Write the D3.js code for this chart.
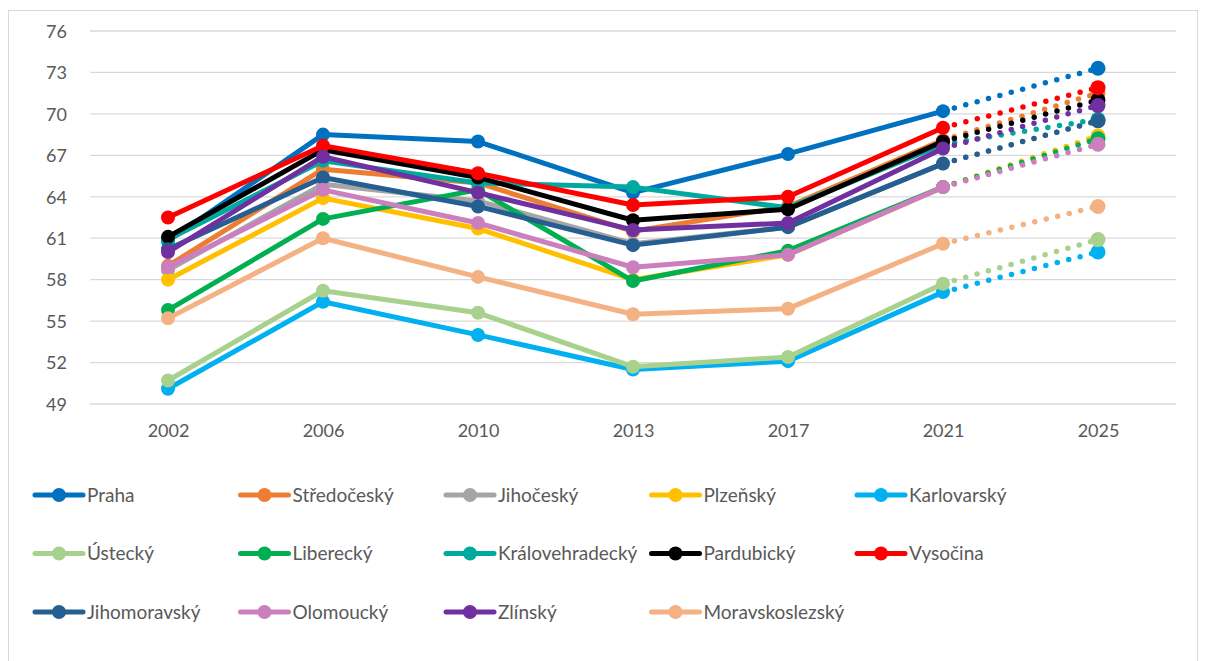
<!DOCTYPE html>
<html>
<head>
<meta charset="utf-8">
<script src="https://cdn.jsdelivr.net/npm/d3@7"></script>
<style>
  body { margin: 0; background: #fff; }
  svg text { font-family: Lato, "Open Sans", sans-serif; fill: #595959; }
</style>
</head>
<body>
<svg id="canvas" width="1206" height="661"></svg>
<script>
// données
const annees = ['2002', '2006', '2010', '2013', '2017', '2021', '2025']
const graduations = [49, 52, 55, 58, 61, 64, 67, 70, 73, 76]

const kraje = ['Praha', 'Středočeský', 'Jihočeský', 'Plzeňský', 'Karlovarský',
  'Ústecký', 'Liberecký', 'Královehradecký', 'Pardubický', 'Vysočina',
  'Jihomoravský', 'Olomoucký', 'Zlínský', 'Moravskoslezský']
const couleurs = ['#0070C0', '#ED7D31', '#A5A5A5', '#FFC000', '#00B0F0',
  '#A9D18E', '#00B050', '#00A9A0', '#000000', '#FF0000',
  '#255E91', '#CC7FBE', '#7030A0', '#F4B183']

const praha = [60.8, 68.5, 68.0, 64.3, 67.1, 70.2, 73.3]
const stredocesky = [59.0, 66.0, 65.0, 61.5, 63.3, 68.1, 71.5]
const jihocesky = [58.7, 64.9, 63.7, 60.6, 61.8, 66.4, 69.5]
const plzensky = [58.0, 63.9, 61.7, 58.0, 59.8, 64.7, 68.4]
const karlovarsky = [50.1, 56.4, 54.0, 51.5, 52.1, 57.1, 60.0]
const ustecky = [50.7, 57.2, 55.6, 51.7, 52.4, 57.7, 60.9]
const liberecky = [55.8, 62.4, 64.5, 57.9, 60.1, 64.7, 68.2]
const kralovehradecky = [60.9, 66.6, 65.0, 64.7, 63.2, 67.8, 69.6]
const pardubicky = [61.1, 67.4, 65.4, 62.3, 63.1, 68.0, 71.0]
const vysocina = [62.5, 67.7, 65.7, 63.4, 64.0, 69.0, 71.9]
const jihomoravsky = [60.2, 65.4, 63.3, 60.5, 61.8, 66.4, 69.5]
const olomoucky = [58.9, 64.5, 62.1, 58.9, 59.8, 64.7, 67.8]
const zlinsky = [60.0, 66.9, 64.3, 61.6, 62.1, 67.5, 70.6]
const moravskoslezsky = [55.2, 61.0, 58.2, 55.5, 55.9, 60.6, 63.3]

const valeurs = [praha, stredocesky, jihocesky, plzensky, karlovarsky, ustecky,
  liberecky, kralovehradecky, pardubicky, vysocina, jihomoravsky, olomoucky,
  zlinsky, moravskoslezsky]

// le dernier point (2025) est une projection, dessinée en pointillé
const series = kraje.map((nom, i) => ({
  nom: nom,
  couleur: couleurs[i],
  points: valeurs[i].map((v, j) => ({ annee: annees[j], v: v }))
}))

let canvas = d3.select('#canvas')

// cadre du graphique
canvas.append('rect')
  .attr('x', 8.5).attr('y', 10.5)
  .attr('width', 1189).attr('height', 670)
  .attr('fill', 'none').attr('stroke', '#d9d9d9')

let x = d3.scalePoint().domain(annees).range([90.5, 1175.5]).padding(0.5)
let y = d3.scaleLinear().domain([49, 76]).range([404, 31])

// grille horizontale
canvas.append('g')
  .selectAll('line')
  .data(graduations)
  .enter()
  .append('line')
  .attr('x1', 90).attr('x2', 1176)
  .attr('y1', d => y(d)).attr('y2', d => y(d))
  .attr('stroke', '#d9d9d9').attr('stroke-width', 1.3)

// axe Y
let axeY = canvas.append('g')
  .attr('transform', 'translate(67,0)')
  .call(d3.axisLeft(y).tickValues(graduations).tickSize(0).tickPadding(0))
axeY.select('.domain').remove()
axeY.selectAll('text').style('font-size', '18px').attr('dy', '0.35em')

// axe X
let axeX = canvas.append('g')
  .attr('transform', 'translate(0,424)')
  .call(d3.axisBottom(x).tickSize(0).tickPadding(0))
axeX.select('.domain').remove()
axeX.selectAll('text').style('font-size', '18px').attr('dy', '0.71em')

let ligne = d3.line().x(d => x(d.annee)).y(d => y(d.v))

// une série après l'autre, pour garder l'ordre de superposition d'Excel
series.forEach(s => {
  let g = canvas.append('g')
  g.append('path')
    .attr('d', ligne(s.points.slice(0, 6)))
    .attr('fill', 'none').attr('stroke', s.couleur)
    .attr('stroke-width', 5).attr('stroke-linejoin', 'round')
  g.append('path')
    .attr('d', ligne(s.points.slice(5)))
    .attr('fill', 'none').attr('stroke', s.couleur)
    .attr('stroke-width', 5.5).attr('stroke-linecap', 'round')
    .attr('stroke-dasharray', '0 11.8')
  g.selectAll('circle')
    .data(s.points)
    .enter()
    .append('circle')
    .attr('cx', d => x(d.annee)).attr('cy', d => y(d.v))
    .attr('r', (d, j) => j === 6 ? 7.5 : 7)
    .attr('fill', s.couleur)
})

// légende : 5 colonnes
let legende = canvas.append('g')
  .selectAll('g')
  .data(series)
  .enter()
  .append('g')
  .attr('transform', (d, i) => `translate(${35 + (i % 5) * 205.5},${495 + Math.floor(i / 5) * 58.5})`)

legende.append('line')
  .attr('x1', 0).attr('x2', 48)
  .attr('stroke', d => d.couleur).attr('stroke-width', 5)
  .attr('stroke-linecap', 'round')
legende.append('circle')
  .attr('cx', 24).attr('r', 7)
  .attr('fill', d => d.couleur)
legende.append('text')
  .attr('x', 52).attr('dy', '0.35em')
  .style('font-size', '19px')
  .text(d => d.nom)
</script>
</body>
</html>
